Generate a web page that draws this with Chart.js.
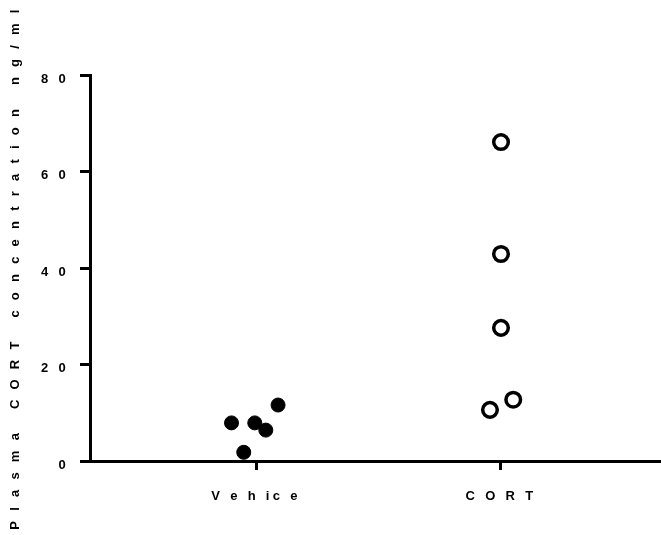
<!DOCTYPE html>
<html>
<head>
<meta charset="utf-8">
<title>Plasma CORT</title>
<script src="https://cdn.jsdelivr.net/npm/chart.js@4"></script>
<style>
  html, body { margin: 0; padding: 0; background: #fff; }
  #grafico { display: block; }
</style>
</head>
<body>
<canvas id="grafico" width="661" height="535"></canvas>
<script>
// Datos
const categorias = ["Vehice", "CORT"];
const etiquetasX = ["V e h ic e", "C O R T"]; // tal como aparecen espaciadas
const tituloY = "Plasma CORT concentration ng/ml";
const ticksY = [0, 20, 40, 60, 80];

// Grupo Vehice (círculos rellenos), x con dispersión alrededor de 1
const vehiceX = [0.90, 0.995, 1.04, 1.09, 0.95];
const vehiceY = [7.9, 7.9, 6.4, 11.6, 1.8];

// Grupo CORT (círculos vacíos), x con dispersión alrededor de 2
const cortX = [2.0, 2.0, 2.0, 1.955, 2.05];
const cortY = [66.1, 42.9, 27.6, 10.6, 12.7];

// Separar letras como en la figura original
function espaciar(texto) {
  return texto.split(" ").map(p => p.split("").join(" ")).join("   ");
}

function puntos(xs, ys) {
  return xs.map((x, i) => ({ x: x, y: ys[i] }));
}

// Espaciado de letras en todo el canvas
const espaciadoLetras = {
  id: "espaciadoLetras",
  beforeLayout(chart) { chart.ctx.letterSpacing = "3.3px"; },
  beforeDraw(chart) { chart.ctx.letterSpacing = "3.3px"; }
};

const fuente = { family: "'Liberation Sans', Arial, sans-serif", size: 13, weight: "bold" };

const ctx = document.getElementById("grafico").getContext("2d");
new Chart(ctx, {
  type: "scatter",
  data: {
    datasets: [
      {
        label: categorias[0],
        data: puntos(vehiceX, vehiceY),
        pointRadius: 7,
        pointHoverRadius: 7,
        backgroundColor: "#000",
        borderColor: "#000",
        borderWidth: 1
      },
      {
        label: categorias[1],
        data: puntos(cortX, cortY),
        pointRadius: 7.3,
        pointHoverRadius: 7.3,
        backgroundColor: "#fff",
        borderColor: "#000",
        borderWidth: 3.5
      }
    ]
  },
  options: {
    responsive: false,
    animation: false,
    devicePixelRatio: 1,
    clip: false,
    layout: { autoPadding: false, padding: { top: 75, right: 0, left: 0, bottom: 0 } },
    plugins: { legend: { display: false }, tooltip: { enabled: false } },
    scales: {
      x: {
        type: "linear",
        min: 0.3224,
        max: 2.6531,
        afterBuildTicks: scale => { scale.ticks = categorias.map((c, i) => ({ value: i + 1 })); },
        afterFit: scale => { scale.height = 74; },
        ticks: {
          color: "#000",
          font: fuente,
          padding: 19,
          maxRotation: 0,
          callback: v => etiquetasX[v - 1] || ""
        },
        grid: { drawOnChartArea: false, tickLength: 9, tickWidth: 3, tickColor: "#000" },
        border: { display: true, color: "#000", width: 3 }
      },
      y: {
        min: 0,
        max: 80,
        afterBuildTicks: scale => { scale.ticks = ticksY.map(v => ({ value: v })); },
        afterFit: scale => { scale.width = 90; },
        ticks: {
          color: "#000",
          font: fuente,
          padding: 11,
          labelOffset: 4,
          callback: v => String(v).split("").join(" ")
        },
        title: {
          display: true,
          text: espaciar(tituloY),
          color: "#000",
          font: fuente,
          padding: { top: 8, bottom: 0 }
        },
        grid: { drawOnChartArea: false, tickLength: 10, tickWidth: 3, tickColor: "#000" },
        border: { display: true, color: "#000", width: 3 }
      }
    }
  },
  plugins: [espaciadoLetras]
});
</script>
</body>
</html>
